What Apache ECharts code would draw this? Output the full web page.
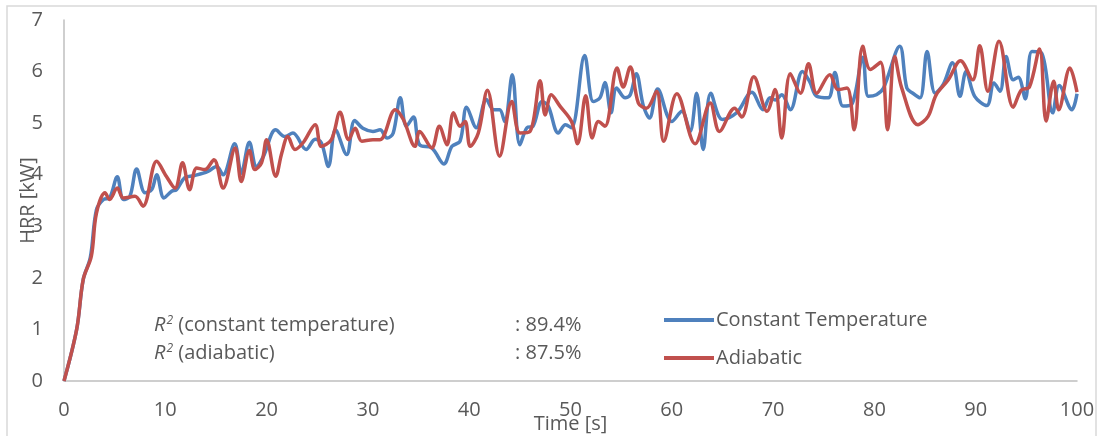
<!DOCTYPE html>
<html lang="en">
<head>
<meta charset="UTF-8">
<title>HRR</title>
<script src="https://cdn.jsdelivr.net/npm/echarts@6/dist/echarts.min.js"></script>
<style>
  html, body, #main { width: 100%; height: 100%; margin: 0; background: #fff; }
</style>
</head>
<body>
<div id="main"></div>
<script>
// Constant Temperature (blue)
var ctTime = [0, 1.25, 1.9, 2.6, 3.2, 3.9, 4.5, 5.26, 5.86, 6.5, 7.17, 8.0, 8.66, 9.15, 9.87, 10.63, 11.1, 11.9, 12.76, 13.75,
  14.25, 15.07, 15.7, 16.85, 17.5, 18.3, 19.0, 19.7, 20.9, 21.8, 22.6, 23.9, 24.8, 25.4, 26.1, 26.8, 27.9, 28.7, 29.5, 30.5,
  31.2, 31.9, 32.5, 33.2, 33.8, 34.5, 35.1, 36.3, 37.5, 38.3, 39.1, 39.75, 40.7, 41.7, 42.4, 43.0, 43.5, 44.25, 45.0, 45.7,
  46.3, 47.2, 47.8, 48.8, 49.5, 50.1, 51.4, 52.25, 52.9, 53.4, 54.0, 54.55, 55.4, 55.9, 56.5, 57.2, 57.8, 58.6, 60.0, 61.0,
  61.8, 62.45, 63.1, 63.85, 65.0, 66.4, 67.9, 69.0, 69.7, 70.2, 70.85, 71.7, 72.9, 73.6, 74.3, 75.45, 76.1, 76.9, 77.75, 78.85,
  79.4, 80.2, 80.9, 82.5, 83.2, 83.8, 84.5, 85.2, 86.0, 86.8, 87.7, 88.45, 89.05, 89.9, 91.1, 91.8, 92.4, 93.0, 93.7, 94.2,
  94.9, 95.55, 96.5, 97.6, 98.25, 99.5, 100];
var ctHrr = [0, 1.0, 1.97, 2.4, 3.32, 3.52, 3.55, 3.96, 3.52, 3.58, 4.11, 3.65, 3.71, 4.0, 3.55, 3.68, 3.71, 3.94, 3.98, 4.03,
  4.07, 4.16, 4.0, 4.6, 4.03, 4.63, 4.16, 4.36, 4.87, 4.74, 4.81, 4.49, 4.69, 4.62, 4.16, 4.87, 4.39, 5.05, 4.9, 4.84,
  4.87, 4.71, 4.81, 5.49, 4.94, 5.12, 4.58, 4.52, 4.21, 4.55, 4.65, 5.31, 4.91, 5.46, 5.26, 5.26, 5.03, 5.94, 4.58, 4.91,
  4.94, 5.42, 5.33, 4.81, 4.97, 4.91, 6.31, 5.42, 5.49, 5.79, 5.2, 5.68, 5.49, 5.55, 5.96, 5.33, 5.1, 5.66, 5.03, 5.23,
  4.84, 5.58, 4.49, 5.58, 5.07, 5.2, 5.6, 5.26, 5.49, 5.45, 5.55, 5.26, 6.0, 5.81, 5.52, 5.49, 5.98, 5.33, 5.36, 6.28,
  5.52, 5.55, 5.68, 6.49, 5.68, 5.58, 5.49, 6.39, 5.58, 5.75, 6.17, 5.52, 6.0, 5.52, 5.34, 5.78, 5.62, 6.29, 5.84, 5.89,
  5.47, 6.39, 6.36, 5.2, 5.73, 5.26, 5.57];

// Adiabatic (red)
var adTime = [0, 1.25, 1.9, 2.7, 3.2, 4.05, 4.5, 5.26, 5.86, 7.0, 7.8, 9.15, 10.1, 10.96, 11.7, 12.4, 13.1, 13.9, 14.8, 15.7,
  16.9, 17.5, 18.3, 18.85, 19.5, 20.0, 20.9, 21.5, 22.1, 22.8, 23.6, 24.8, 25.4, 26.4, 27.25, 28.1, 28.75, 29.4, 30.5, 31.2,
  32.7, 33.5, 34.65, 35.1, 36.3, 37.05, 37.8, 38.45, 39.1, 39.6, 40.1, 40.9, 41.8, 43.0, 44.2, 45.0, 46.0, 47.0, 47.5, 48.1,
  48.96, 50.1, 50.7, 51.5, 52.15, 52.75, 53.4, 54.6, 55.2, 55.9, 56.7, 57.5, 58.5, 59.2, 60.5, 62.3, 63.8, 64.7, 66.2, 66.9,
  68.1, 69.4, 70.2, 70.85, 71.7, 72.7, 73.5, 74.3, 75.6, 76.4, 77.3, 78.0, 78.85, 79.6, 80.6, 81.3, 82.0, 82.7, 84.3, 85.3,
  86.1, 87.3, 88.5, 89.7, 90.4, 91.2, 92.3, 93.7, 94.5, 95.3, 96.3, 96.95, 97.7, 98.2, 99.3, 100];
var adHrr = [0, 1.0, 1.97, 2.42, 3.25, 3.65, 3.52, 3.74, 3.55, 3.58, 3.39, 4.26, 3.97, 3.74, 4.23, 3.71, 4.13, 4.1, 4.29, 3.74,
  4.52, 3.87, 4.47, 4.1, 4.23, 4.68, 3.97, 4.42, 4.74, 4.49, 4.62, 4.97, 4.55, 4.68, 5.21, 4.68, 4.9, 4.65, 4.68, 4.68,
  5.26, 5.07, 4.55, 4.84, 4.52, 4.94, 4.58, 5.2, 4.94, 5.03, 4.55, 4.81, 5.64, 4.36, 5.42, 4.81, 4.84, 5.82, 5.16, 5.55,
  5.33, 5.03, 4.6, 5.53, 4.71, 5.03, 4.94, 6.07, 5.7, 6.09, 5.39, 5.29, 5.62, 4.65, 5.57, 4.6, 5.39, 4.84, 5.29, 5.12,
  5.9, 5.23, 5.65, 4.71, 5.96, 5.58, 6.15, 5.58, 5.94, 5.65, 5.68, 4.87, 6.49, 6.04, 6.18, 4.87, 6.29, 5.68, 4.97, 5.13,
  5.55, 5.84, 6.21, 5.84, 6.5, 5.62, 6.59, 5.31, 5.64, 5.7, 6.44, 5.04, 5.81, 5.26, 6.07, 5.6];

var seriesNames = ['Constant Temperature', 'Adiabatic'];
var fitLabels = ['(constant temperature)', '(adiabatic)'];
var fitValues = [': 89.4%', ': 87.5%'];

function pairs(xs, ys) {
  return xs.map(function (x, i) { return [x, ys[i]]; });
}

var textColor = '#595959';
var font = '"Open Sans", sans-serif';
var fs = 20;

var rTextRich = {
  i: { fontStyle: 'italic', fontSize: fs, fontFamily: font, fill: textColor },
  s: { fontStyle: 'italic', fontSize: 12, fontFamily: font, verticalAlign: 'top', fill: textColor, padding: [0, 0, 9, 1] },
  t: { fontSize: fs, fontFamily: font, fill: textColor }
};

var chart = echarts.init(document.getElementById('main'));
chart.setOption({
  animation: false,
  backgroundColor: '#fff',
  grid: { left: 64, right: 24, top: 20, bottom: 55, outerBoundsMode: 'none' },
  xAxis: {
    type: 'value', min: 0, max: 100, interval: 10,
    name: 'Time [s]', nameLocation: 'middle', nameGap: 33, nameMoveOverlap: false,
    nameTextStyle: { color: textColor, fontSize: fs, fontFamily: font },
    axisLine: { lineStyle: { color: '#bfbfbf', width: 1.5 } },
    axisTick: { show: false },
    splitLine: { show: false },
    axisLabel: { color: textColor, fontSize: fs, fontFamily: font, margin: 19 }
  },
  yAxis: {
    type: 'value', min: 0, max: 7, interval: 1,
    name: 'HRR [kW]', nameLocation: 'middle', nameGap: 26, nameMoveOverlap: false,
    nameTextStyle: { color: textColor, fontSize: fs, fontFamily: font },
    axisLine: { show: true, lineStyle: { color: '#bfbfbf', width: 1.5 } },
    axisTick: { show: false },
    splitLine: { show: false },
    axisLabel: { color: textColor, fontSize: fs, fontFamily: font, margin: 21 }
  },
  legend: {
    orient: 'vertical', left: 659, top: 305, itemGap: 18,
    itemWidth: 50, itemHeight: 4, icon: 'rect',
    textStyle: { color: textColor, fontSize: fs, fontFamily: font, padding: [0, 0, 0, -3] },
    data: seriesNames
  },
  series: [
    {
      name: seriesNames[0], type: 'line', smooth: 0.35, showSymbol: false,
      color: '#4F81BD', lineStyle: { width: 3.5 },
      data: pairs(ctTime, ctHrr)
    },
    {
      name: seriesNames[1], type: 'line', smooth: 0.35, showSymbol: false,
      color: '#C0504D', lineStyle: { width: 3.5 },
      data: pairs(adTime, adHrr)
    }
  ],
  graphic: [
    { type: 'rect', shape: { x: 7, y: 6, width: 1089, height: 440 }, style: { fill: 'none', stroke: '#d9d9d9', lineWidth: 1.5 }, silent: true },
    { type: 'text', left: 154, top: 315, style: { text: '{i|R}{s|2}{t| ' + fitLabels[0] + '}', rich: rTextRich } },
    { type: 'text', left: 154, top: 343, style: { text: '{i|R}{s|2}{t| ' + fitLabels[1] + '}', rich: rTextRich } },
    { type: 'text', left: 515, top: 315, style: { text: fitValues[0], fill: textColor, font: fs + 'px ' + font } },
    { type: 'text', left: 515, top: 343, style: { text: fitValues[1], fill: textColor, font: fs + 'px ' + font } }
  ]
});
window.onresize = chart.resize;
</script>
</body>
</html>
